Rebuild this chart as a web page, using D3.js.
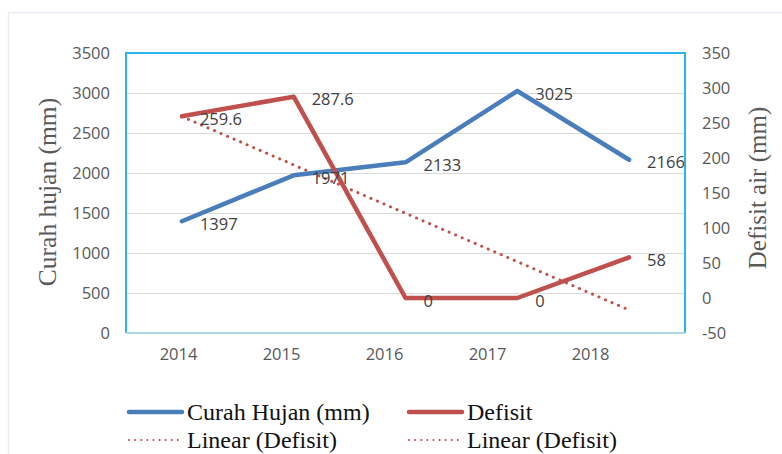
<!DOCTYPE html>
<html>
<head>
<meta charset="utf-8">
<script src="https://cdn.jsdelivr.net/npm/d3@7"></script>
<style>
  body { margin: 0; background: #fff; }
  svg { display: block; }
</style>
</head>
<body>
<svg></svg>
<script>
// Curah hujan vs defisit air, 2014-2018

var width = 782;
var height = 454;

var years = ["2014", "2015", "2016", "2017", "2018"];
var curahHujan = [1397, 1971, 2133, 3025, 2166];
var defisit = [259.6, 287.6, 0, 0, 58];
var leftTicks = [0, 500, 1000, 1500, 2000, 2500, 3000, 3500];
var rightTicks = [-50, 0, 50, 100, 150, 200, 250, 300, 350];

var blue = "#4a7ebb";
var red = "#c0504d";
var labelFont = "'Open Sans', 'Liberation Sans', sans-serif";
var serif = "'Liberation Serif', 'DejaVu Serif', serif";

var plot = { left: 126, right: 685, top: 53, bottom: 333 };

var svg = d3.select("svg")
  .attr("width", width)
  .attr("height", height);

var x = d3.scaleBand()
  .domain(years)
  .range([plot.left, plot.right]);

// the year labels in the picture sit a bit left of the points
var xLabels = d3.scalePoint()
  .domain(years)
  .range([178, 590]);

var yLeft = d3.scaleLinear()
  .domain([0, 3500])
  .range([plot.bottom, plot.top]);

var yRight = d3.scaleLinear()
  .domain([-50, 350])
  .range([plot.bottom, plot.top]);

var cx = d => x(d) + x.bandwidth() / 2;

// faint outer frame
svg.append("path")
  .attr("d", "M8.5,460 L8.5,12.5 L790,12.5")
  .attr("fill", "none")
  .attr("stroke", "#e6edf5")
  .attr("stroke-width", 1.5);

// gridlines
svg.append("g")
  .selectAll("line")
  .data(leftTicks.slice(1))
  .enter()
  .append("line")
    .attr("x1", plot.left)
    .attr("x2", plot.right)
    .attr("y1", d => Math.round(yLeft(d)) + 0.5)
    .attr("y2", d => Math.round(yLeft(d)) + 0.5)
    .attr("stroke", "#d9d9d9")
    .attr("stroke-width", 1.2);

// plot border
svg.append("path")
  .attr("d", `M${plot.left},${plot.bottom} L${plot.left},${plot.top} L${plot.right},${plot.top} L${plot.right},${plot.bottom}`)
  .attr("fill", "none")
  .attr("stroke", "#2ab4ee")
  .attr("stroke-width", 2);
svg.append("line")
  .attr("x1", plot.left)
  .attr("x2", plot.right)
  .attr("y1", plot.bottom)
  .attr("y2", plot.bottom)
  .attr("stroke", "#aad6e6")
  .attr("stroke-width", 2);

var plain = d => String(d);

// left axis
var leftAxis = svg.append("g")
  .attr("transform", "translate(110,0)")
  .call(d3.axisLeft(yLeft).tickValues(leftTicks).tickFormat(plain).tickSize(0).tickPadding(0));
leftAxis.select(".domain").remove();
leftAxis.selectAll("text")
  .attr("fill", "#595959")
  .style("font-family", labelFont)
  .style("font-size", "16.5px");

// right axis
var rightAxis = svg.append("g")
  .attr("transform", "translate(702,0)")
  .call(d3.axisRight(yRight).tickValues(rightTicks).tickFormat(plain).tickSize(0).tickPadding(0));
rightAxis.select(".domain").remove();
rightAxis.selectAll("text")
  .attr("fill", "#595959")
  .style("font-family", labelFont)
  .style("font-size", "16.5px");

// bottom axis
var bottomAxis = svg.append("g")
  .attr("transform", "translate(0,348)")
  .call(d3.axisBottom(xLabels).tickSize(0).tickPadding(0));
bottomAxis.select(".domain").remove();
bottomAxis.selectAll("text")
  .attr("fill", "#595959")
  .style("font-family", labelFont)
  .style("font-size", "16.5px");

// axis titles
svg.append("text")
  .attr("transform", "translate(56,192) rotate(-90)")
  .attr("text-anchor", "middle")
  .attr("fill", "#595959")
  .style("font-family", serif)
  .style("font-size", "25.5px")
  .text("Curah hujan (mm)");

svg.append("text")
  .attr("transform", "translate(766,188) rotate(-90)")
  .attr("text-anchor", "middle")
  .attr("fill", "#595959")
  .style("font-family", serif)
  .style("font-size", "25px")
  .text("Defisit air (mm)");

// linear trend of defisit (least squares over year index)
var n = defisit.length;
var meanX = (n - 1) / 2;
var meanY = d3.mean(defisit);
var slope = d3.sum(defisit, (v, i) => (i - meanX) * (v - meanY)) /
            d3.sum(defisit, (v, i) => (i - meanX) * (i - meanX));
var trend = years.map((yr, i) => ({ year: yr, value: meanY + slope * (i - meanX) }));

svg.append("path")
  .datum(trend)
  .attr("fill", "none")
  .attr("stroke", red)
  .attr("stroke-width", 3)
  .attr("stroke-linecap", "round")
  .attr("stroke-dasharray", "0.1,7")
  .attr("d", d3.line().x(d => cx(d.year)).y(d => yRight(d.value)));

// series lines
var blueData = years.map((yr, i) => ({ year: yr, value: curahHujan[i] }));
var redData = years.map((yr, i) => ({ year: yr, value: defisit[i] }));

svg.append("path")
  .datum(blueData)
  .attr("fill", "none")
  .attr("stroke", blue)
  .attr("stroke-width", 4.5)
  .attr("stroke-linecap", "round")
  .attr("stroke-linejoin", "round")
  .attr("d", d3.line().x(d => cx(d.year)).y(d => yLeft(d.value)));

svg.append("path")
  .datum(redData)
  .attr("fill", "none")
  .attr("stroke", red)
  .attr("stroke-width", 4.5)
  .attr("stroke-linecap", "round")
  .attr("stroke-linejoin", "round")
  .attr("d", d3.line().x(d => cx(d.year)).y(d => yRight(d.value)));

// data labels
svg.append("g")
  .selectAll("text")
  .data(blueData)
  .enter()
  .append("text")
    .attr("x", d => cx(d.year) + 18)
    .attr("y", d => yLeft(d.value) + 3)
    .attr("dy", "0.35em")
    .attr("fill", "#404040")
    .style("font-family", labelFont)
    .style("font-size", "16.5px")
    .text(d => d.value);

svg.append("g")
  .selectAll("text")
  .data(redData)
  .enter()
  .append("text")
    .attr("x", d => cx(d.year) + 18)
    .attr("y", d => yRight(d.value) + 3)
    .attr("dy", "0.35em")
    .attr("fill", "#404040")
    .style("font-family", labelFont)
    .style("font-size", "16.5px")
    .text(d => d.value);

// legend
var legendItems = [
  { label: "Curah Hujan (mm)", color: blue, dotted: false, x: 128, y: 412 },
  { label: "Defisit", color: red, dotted: false, x: 408, y: 412 },
  { label: "Linear (Defisit)", color: red, dotted: true, x: 128, y: 440 },
  { label: "Linear (Defisit)", color: red, dotted: true, x: 408, y: 440 }
];

var legend = svg.append("g")
  .selectAll("g")
  .data(legendItems)
  .enter()
  .append("g")
    .attr("transform", d => `translate(${d.x},${d.y})`);

legend.append("line")
  .attr("x1", 1)
  .attr("x2", 54)
  .attr("stroke", d => d.color)
  .attr("stroke-width", d => d.dotted ? 2 : 4.5)
  .attr("stroke-linecap", "round")
  .attr("stroke-dasharray", d => d.dotted ? "0.1,6" : null);

legend.append("text")
  .attr("x", 59)
  .attr("dy", "0.33em")
  .attr("fill", "#111")
  .style("font-family", serif)
  .style("font-size", "24px")
  .text(d => d.label);
</script>
</body>
</html>
